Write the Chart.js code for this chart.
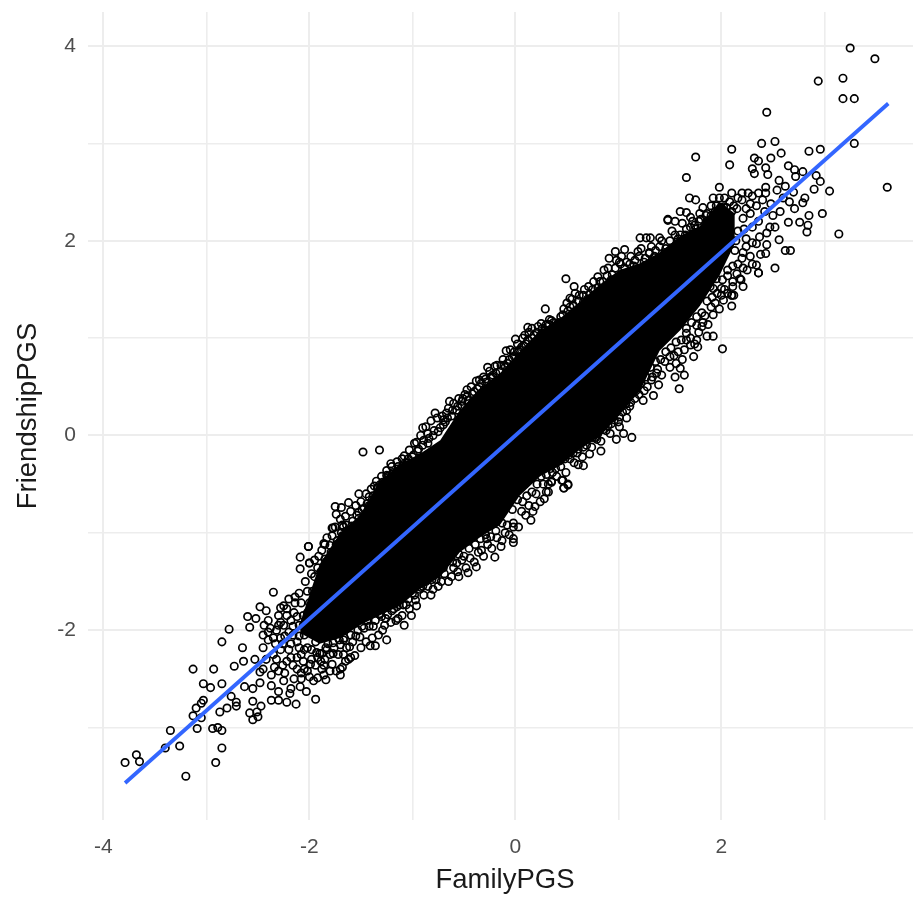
<!DOCTYPE html>
<html>
<head>
<meta charset="utf-8">
<title>FamilyPGS vs FriendshipPGS</title>
<script src="https://cdn.jsdelivr.net/npm/chart.js@4/dist/chart.umd.min.js"></script>
<style>
  html, body { margin: 0; padding: 0; background: #fff; }
  #wrap { width: 913px; height: 898px; overflow: hidden; }
  canvas { display: block; }
</style>
</head>
<body>
<div id="wrap"><canvas id="chart" width="913" height="898"></canvas></div>
<script>
const xTicks = [-4, -3, -2, -1, 0, 1, 2, 3];
const yTicks = [-3, -2, -1, 0, 1, 2, 3, 4];
const xLabels = [-4, -2, 0, 2];
const yLabels = [-2, 0, 2, 4];

// fitted line, both ends
const fitLine = [[-3.79, -3.57], [3.62, 3.41]];

// solid black part of the cloud, upper and lower edge
const coreX = [-2.09, -1.90, -1.70, -1.51, -1.32, -1.12, -0.93, -0.73, -0.54, -0.35, -0.15, 0.04, 0.24, 0.43, 0.63, 0.82, 1.01, 1.21, 1.40, 1.60, 1.79, 1.98, 2.13];
const coreTop = [-1.92, -1.32, -1.00, -0.82, -0.47, -0.29, -0.19, -0.05, 0.26, 0.48, 0.64, 0.86, 1.08, 1.20, 1.38, 1.55, 1.70, 1.77, 1.88, 2.05, 2.15, 2.40, 2.28];
const coreBottom = [-2.03, -2.14, -2.08, -1.95, -1.85, -1.75, -1.58, -1.45, -1.20, -1.05, -0.92, -0.62, -0.42, -0.31, -0.14, -0.01, 0.21, 0.46, 0.87, 1.08, 1.33, 1.64, 1.97];

// single circles around the core
const lowTail = [
  [-3.79,-3.36],[-3.68,-3.28],[-3.65,-3.35],[-3.40,-3.21],[-3.35,-3.03],[-3.26,-3.19],[-3.20,-3.50],[-2.91,-3.36],
  [-2.85,-3.21],[-2.94,-3.01],[-2.89,-3.00],[-2.85,-3.03],[-3.09,-3.01],[-3.13,-2.88],[-3.10,-2.80],[-3.05,-2.90],
  [-3.05,-2.75],[-3.03,-2.72],[-2.87,-2.84],[-2.80,-2.80],[-2.71,-2.78],[-2.71,-2.74],[-2.76,-2.68],[-2.85,-2.55],
  [-2.96,-2.59],[-3.03,-2.55],[-3.13,-2.40],[-2.93,-2.40],[-2.73,-2.37],[-2.85,-2.12],[-2.78,-1.99],[-2.65,-2.18],
  [-2.64,-2.32],[-2.53,-2.30],[-2.63,-2.58],[-2.55,-2.60],[-2.48,-2.54],[-2.48,-2.43],[-2.37,-2.46],[-2.37,-2.57],
  [-2.30,-2.63],[-2.37,-2.72],[-2.30,-2.72],[-2.22,-2.74],[-2.13,-2.76],[-2.19,-2.65],[-2.09,-2.58],[-2.03,-2.63],
  [-1.94,-2.71],[-1.84,-2.51],[-1.92,-2.49],[-1.70,-2.46],[-1.70,-2.40],[-2.55,-2.73],[-2.47,-2.78],[-2.58,-2.85],
  [-2.51,-2.84],[-2.55,-2.92],[-2.50,-2.89],[-2.60,-1.86],[-2.52,-1.88],[-2.58,-1.97],[-2.48,-1.76],[-2.42,-1.80],
  [-2.35,-1.61],[-2.28,-1.77],[-2.01,-1.14],[-2.09,-1.25],[-2.09,-1.37],[-1.85,-1.12],[-1.77,-0.95],[-2.00,-1.31],
  [-2.45,-2.05],[-2.40,-2.10],[-2.38,-1.98],[-2.32,-2.00],[-2.28,-2.08],[-2.25,-1.95],[-2.20,-2.02],[-2.18,-1.90],
  [-2.15,-1.82],[-2.10,-1.95],[-2.08,-1.72],[-2.12,-2.12],[-2.05,-2.05],[-2.02,-1.60],[-1.98,-2.30],[-1.95,-1.45],
  [-1.90,-1.52],[-1.88,-2.40],[-1.85,-2.30],[-1.80,-2.25],[-2.28,-2.20],[-2.35,-2.25],[-2.22,-2.32],[-2.18,-2.28],
  [-2.12,-2.40],[-2.05,-2.40],[-2.00,-2.48],[-1.98,-2.20],[-2.25,-1.75],[-2.20,-1.68],[-2.30,-1.85],[-2.40,-1.90],
  [-2.45,-2.18],[-1.94,-2.12],[-1.78,-2.35],[-1.72,-2.25],[-1.65,-2.32],[-1.60,-2.28],[-2.08,-2.25],[-2.15,-2.50],
  [-2.25,-2.52],[-2.30,-2.42],[-2.42,-2.30],[-2.45,-2.40],
  [-2.14,-1.72],[-2.10,-1.62],[-2.06,-1.85],[-2.04,-1.50],[-2.00,-1.72],[-1.97,-1.60],[-2.16,-2.05],[-2.10,-2.18],
  [-2.20,-2.20],[-2.06,-2.32],[-2.02,-2.18],[-2.32,-2.30],[-2.26,-2.36],[-2.16,-2.36],[-2.08,-2.50],[-2.22,-1.85],
  [-2.40,-2.02],[-2.35,-2.08],[-2.30,-1.95],[-2.24,-2.06],[-2.16,-1.96],[-2.12,-1.86],[-2.06,-1.95],[-2.02,-1.82],
  [-1.96,-1.72],[-1.92,-1.62],[-2.33,-2.14],[-2.26,-2.14],[-2.18,-2.14],[-2.10,-2.06],[-2.00,-2.00],[-1.94,-1.90],
  [-2.44,-1.95],[-2.28,-1.92],[-2.22,-1.78],[-2.14,-1.66],[-2.24,-2.44],[-2.34,-2.38],[-2.12,-2.28],[-2.05,-2.20],
  [-1.90,-2.24],[-1.84,-2.18],[-2.18,-2.60],[-2.08,-2.44],[-1.94,-2.36],[-1.86,-2.36]
];
const upperEdge = [
  [-1.48,-0.17],[-1.32,-0.15],[-1.21,-0.29],[-1.08,-0.21],[-1.52,-0.60],[-1.62,-0.69],[-1.75,-0.73],[-1.69,-0.74],
  [-1.74,-0.81],[-1.42,-0.63],[-1.37,-0.52],[-1.32,-0.51],[-1.78,-0.95],[-1.86,-1.11],[-2.01,-1.14],[-2.00,-1.31],
  [-1.91,-1.24],[-1.52,-0.79],[-0.90,0.08],[-0.96,-0.07],[-0.78,0.23],[-0.67,0.23],[-0.64,0.35],[-0.47,0.47],
  [-0.52,0.35],[-0.35,0.57],[-0.85,0.02],[-0.70,0.11],[-1.25,-0.41],[-1.12,-0.42],[-1.06,-0.34],[-1.67,-0.94],
  [-1.68,-1.03],[-1.62,-1.11],[0.29,1.30],[0.49,1.61],[0.57,1.53],[0.71,1.53],[0.66,1.37],[0.53,1.41],
  [0.53,1.32],[0.80,1.63],[0.91,1.82],[0.97,1.89],[1.06,1.91],[1.19,1.89],[1.21,2.03],[1.27,2.03],
  [1.31,2.03],[1.40,2.03],[1.48,2.21],[1.30,1.87],[1.01,1.78],[0.00,0.99],[-0.09,0.87],[-0.01,0.81],
  [0.06,0.91],[0.12,1.11],[0.16,1.10],[0.09,1.03],[-0.11,0.72],[-0.20,0.71],[-0.27,0.70],[-0.22,0.60],
  [0.25,1.15],[0.33,1.19],[0.41,1.14],
  [-1.98,-1.42],[-1.95,-1.28],[-1.92,-1.36],[-1.88,-1.18],[-1.85,-1.27],[-1.83,-1.05],[-1.80,-1.13],[-1.78,-1.03],
  [-1.75,-0.94],[-1.73,-1.08],[-1.70,-0.86],[-1.68,-0.92],[-1.65,-0.83],[-1.63,-0.98],[-1.60,-0.78],[-1.58,-0.88],
  [-1.55,-0.72],[-1.52,-0.85],[-1.50,-0.68],[-1.47,-0.75],[-1.45,-0.60],[-1.42,-0.72],[-1.40,-0.55],[-1.38,-0.62],
  [-1.35,-0.47],[-1.33,-0.60],[-1.30,-0.42],[-1.27,-0.52],[-1.25,-0.36],[-1.22,-0.46],[-1.20,-0.32],[-1.17,-0.42],
  [-1.15,-0.27],[-1.12,-0.36],[-1.10,-0.24],[-1.05,-0.28],[-1.03,-0.15],[-1.00,-0.22],[-0.98,-0.08],[-0.95,-0.16],
  [-0.92,0.00],[-0.90,-0.10],[-0.87,0.09],[-0.84,-0.03],[-0.82,0.15],[-0.79,0.05],[-0.76,0.18],[-0.73,0.08],
  [-0.71,0.20],[-0.68,0.14],[-0.65,0.28],[-0.62,0.20],[-0.60,0.33],[-0.57,0.26],[-0.55,0.38],[-0.52,0.30],
  [-0.49,0.42],[-0.46,0.36],[-0.43,0.50],[-0.40,0.45],[-0.38,0.56],[-0.35,0.50],[-0.31,0.60],[-0.28,0.55],
  [-0.25,0.66],[-0.22,0.62],[-0.18,0.72],[-0.15,0.66],[-0.12,0.78],[-0.08,0.74],[-0.05,0.88],[-0.03,0.80],
  [0.02,0.94],[0.04,0.88],[0.07,1.00],[0.10,0.94],[0.13,1.06],[0.18,1.03],[0.22,1.12],[0.26,1.10],
  [0.30,1.14],[0.35,1.18],[0.38,1.12],[0.44,1.22],[0.47,1.30],[0.50,1.36],[0.55,1.40],[0.58,1.46],
  [0.62,1.44],[0.67,1.50],[0.72,1.45],[0.76,1.58],[0.82,1.58],[0.86,1.70],[0.90,1.72],[0.94,1.65],
  [0.98,1.80],[1.03,1.84],[1.08,1.78],[1.12,1.84],[1.16,1.80],[1.22,1.92],[1.26,1.82],[1.32,1.94],
  [1.36,1.90],[1.42,2.00],[1.46,1.92],[1.52,2.10],[1.55,2.20],[1.58,2.02],[1.62,2.18],[1.66,2.12],
  [1.70,2.24],[1.74,2.16],[1.78,2.20],[1.82,2.34],[1.86,2.20],[1.90,2.36],[1.94,2.30],[1.98,2.44],
  [2.03,2.44],[2.08,2.40],[2.12,2.36],[2.16,2.44],[2.24,2.33],[2.30,2.46],
  [-1.89,-1.40],[-1.84,-1.30],[-1.79,-1.20],[-1.74,-1.12],[-1.69,-1.00],[-1.64,-0.92],[-1.59,-0.93],[-1.54,-0.82],
  [-1.49,-0.76],[-1.44,-0.70],[-1.39,-0.66],[-1.34,-0.54],[-1.29,-0.48],[-1.24,-0.42],[-1.19,-0.38],[-1.14,-0.32],
  [-1.09,-0.30],[-1.04,-0.24],[-0.99,-0.20],[-0.94,-0.14],[-0.89,-0.05],[-0.85,-0.08],[-0.80,0.00],[-0.75,0.04],
  [-0.70,0.16],[-0.66,0.18],[-0.61,0.26],[-0.56,0.30],[-0.51,0.38],[-0.47,0.40],[-0.42,0.43],[-0.37,0.48],
  [-0.33,0.54],[-0.29,0.58],[-0.24,0.60],[-0.19,0.64],[-0.14,0.72],[-0.10,0.70],[-0.06,0.78],[-0.01,0.86],
  [0.03,0.86],[0.08,0.92],[0.12,0.98],[0.16,1.00],[0.21,1.06],[0.25,1.04],[0.29,1.08],[0.33,1.14],
  [0.37,1.16],[0.42,1.16],[0.46,1.24],[0.51,1.28],[0.56,1.34],[0.61,1.38],[0.66,1.44],[0.70,1.40],
  [0.75,1.50],[0.80,1.52],[0.85,1.58],[0.89,1.64],[0.93,1.60],[0.97,1.72],[1.02,1.76],[1.06,1.72],
  [1.11,1.76],[1.15,1.74],[1.20,1.84],[1.25,1.78],[1.30,1.88],[1.35,1.84],[1.40,1.94],[1.45,1.88],
  [1.50,2.00],[1.55,2.06],[1.60,2.06],[1.65,2.06],[1.70,2.14],[1.75,2.12],[1.80,2.22],[1.85,2.26],
  [1.90,2.26],[1.95,2.36],[2.00,2.34],[2.05,2.34],[2.10,2.30]
];
const lowerEdge = [
  [-0.20,-1.25],[-0.33,-1.18],[-0.38,-1.35],[-0.46,-1.41],[-0.55,-1.45],[-0.62,-1.45],[-0.75,-1.55],[-0.82,-1.64],
  [-0.97,-1.69],[-1.01,-1.85],[-1.08,-1.95],[-1.14,-1.88],[-1.25,-2.10],[-1.29,-2.00],[-1.36,-2.16],[-1.41,-2.16],
  [-1.67,-2.25],[-0.13,-1.08],[-0.02,-1.10],[-0.02,-1.06],[-0.28,-1.06],[0.15,-0.87],[0.19,-0.73],[0.28,-0.65],
  [0.30,-0.58],[0.35,-0.48],[0.45,-0.46],[0.51,-0.50],[0.47,-0.54],[0.61,-0.30],[-0.02,-0.94],[-0.57,-1.31],
  [-0.90,-1.55],[-1.20,-1.72],[-1.32,-1.83],[-1.51,-2.07],[-1.61,-2.17],[-1.77,-2.13],[-1.93,-2.23],[-1.67,-2.10],
  [2.01,0.89],[1.59,0.48],[1.64,0.62],[1.55,0.60],[1.60,0.69],[1.73,0.81],[1.77,0.91],[1.70,0.93],
  [1.64,0.88],[1.92,1.02],[1.86,1.02],[1.76,0.98],[2.10,1.33],[2.02,1.39],[1.92,1.24],[1.84,1.23],
  [2.21,1.53],[2.10,1.44],[2.36,1.67],[2.00,1.51],[1.92,1.51],[2.11,1.58],[1.13,-0.02],[0.98,-0.04],
  [1.05,0.02],[1.01,0.09],[0.93,0.12],[1.08,0.18],[1.01,0.19],[1.11,0.30],[1.24,0.36],[1.34,0.41],
  [1.39,0.52],[1.32,0.57],[0.66,-0.31],[0.83,-0.16],[0.72,-0.19],[0.79,-0.04],[0.46,-0.46],[0.51,-0.51],
  [0.35,-0.47],[0.32,-0.58],[0.47,-0.54],[1.56,0.74],[1.50,0.81],[1.37,0.64],[1.66,1.05],[1.76,1.13],
  [1.81,1.12],[1.56,1.19],
  [-2.02,-2.42],[-1.99,-2.35],[-1.96,-2.52],[-1.92,-2.28],[-1.89,-2.32],[-1.86,-2.46],[-1.83,-2.20],[-1.80,-2.42],
  [-1.76,-2.18],[-1.74,-2.42],[-1.70,-2.15],[-1.68,-2.38],[-1.64,-2.18],[-1.62,-2.30],[-1.58,-2.12],[-1.56,-2.26],
  [-1.53,-2.00],[-1.50,-2.18],[-1.47,-1.98],[-1.45,-2.12],[-1.42,-1.96],[-1.39,-2.08],[-1.36,-1.90],[-1.33,-2.05],
  [-1.30,-1.86],[-1.27,-1.95],[-1.24,-1.84],[-1.21,-1.92],[-1.18,-1.78],[-1.16,-1.90],[-1.13,-1.74],[-1.10,-1.85],
  [-1.06,-1.74],[-1.03,-1.78],[-1.00,-1.62],[-0.96,-1.75],[-0.93,-1.58],[-0.89,-1.64],[-0.85,-1.55],[-0.80,-1.58],
  [-0.77,-1.48],[-0.72,-1.50],[-0.69,-1.42],[-0.65,-1.50],[-0.60,-1.36],[-0.56,-1.40],[-0.52,-1.28],[-0.48,-1.36],
  [-0.44,-1.26],[-0.40,-1.30],[-0.36,-1.20],[-0.31,-1.24],[-0.27,-1.12],[-0.23,-1.16],[-0.18,-1.05],[-0.14,-1.14],
  [-0.10,-1.00],[-0.06,-1.02],[-0.02,-0.90],[0.03,-0.94],[0.06,-0.78],[0.10,-0.82],[0.13,-0.72],[0.17,-0.78],
  [0.20,-0.60],[0.24,-0.68],[0.27,-0.50],[0.32,-0.50],[0.36,-0.38],[0.40,-0.42],[0.44,-0.32],[0.49,-0.38],
  [0.53,-0.24],[0.57,-0.28],[0.60,-0.18],[0.65,-0.22],[0.69,-0.10],[0.74,-0.12],[0.78,-0.02],[0.83,-0.06],
  [0.88,0.05],[0.92,0.02],[0.96,0.16],[1.00,0.14],[1.04,0.24],[1.08,0.26],[1.12,0.34],[1.16,0.38],
  [1.20,0.42],[1.25,0.46],[1.28,0.50],[1.33,0.60],[1.38,0.68],[1.42,0.62],[1.45,0.76],[1.50,0.70],
  [1.54,0.82],[1.58,0.86],[1.62,0.78],[1.66,0.98],[1.70,1.00],[1.74,0.94],[1.78,1.06],[1.82,1.16],
  [1.87,1.14],[1.90,1.32],[1.94,1.36],[1.98,1.30],[2.03,1.50],[2.06,1.46],[2.12,1.44],[2.15,1.66],
  [2.19,1.60],[2.25,1.70],[2.30,1.76],
  [-1.88,-2.24],[-1.82,-2.14],[-1.77,-2.24],[-1.71,-2.10],[-1.66,-2.08],[-1.60,-2.05],[-1.55,-2.06],[-1.49,-1.96],
  [-1.44,-1.90],[-1.38,-1.96],[-1.32,-1.84],[-1.26,-1.88],[-1.20,-1.80],[-1.15,-1.76],[-1.09,-1.74],[-1.04,-1.68],
  [-0.98,-1.64],[-0.92,-1.56],[-0.87,-1.50],[-0.81,-1.48],[-0.76,-1.42],[-0.70,-1.36],[-0.66,-1.28],[-0.61,-1.30],
  [-0.55,-1.22],[-0.50,-1.24],[-0.45,-1.16],[-0.39,-1.12],[-0.34,-1.06],[-0.29,-1.02],[-0.24,-1.04],[-0.19,-0.98],
  [-0.13,-0.90],[-0.08,-0.92],[-0.03,-0.76],[0.02,-0.66],[0.07,-0.68],[0.11,-0.62],[0.16,-0.58],[0.21,-0.50],
  [0.25,-0.42],[0.30,-0.40],[0.34,-0.34],[0.39,-0.34],[0.43,-0.26],[0.48,-0.24],[0.52,-0.20],[0.56,-0.18],
  [0.61,-0.14],[0.66,-0.12],[0.70,-0.04],[0.75,-0.02],[0.80,0.02],[0.85,0.06],[0.90,0.10],[0.94,0.18],
  [0.98,0.24],[1.03,0.30],[1.07,0.32],[1.12,0.44],[1.17,0.46],[1.22,0.54],[1.27,0.60],[1.31,0.70],
  [1.36,0.76],[1.41,0.78],[1.46,0.86],[1.51,0.90],[1.56,0.96],[1.61,0.98],[1.66,1.10],[1.71,1.16],
  [1.76,1.22],[1.81,1.26],[1.86,1.38],[1.91,1.42],[1.96,1.46],[2.01,1.60],[2.06,1.64],[2.11,1.74],
  [2.16,1.76],[2.21,1.88]
];
const highTail = [
  [3.25,3.98],[3.49,3.87],[2.94,3.64],[3.18,3.67],[3.18,3.46],[3.29,3.46],[2.44,3.32],[3.29,3.00],
  [2.52,3.02],[2.39,3.00],[2.96,2.94],[2.85,2.92],[2.10,2.94],[1.75,2.86],[2.08,2.78],[1.66,2.65],
  [2.58,2.90],[2.48,2.85],[2.32,2.85],[2.36,2.82],[2.30,2.74],[2.43,2.75],[2.32,2.69],[2.45,2.68],
  [2.65,2.77],[2.71,2.73],[2.79,2.71],[2.72,2.66],[2.92,2.67],[2.96,2.61],[2.90,2.53],[3.05,2.51],
  [3.61,2.55],[3.14,2.07],[2.98,2.28],[2.85,2.26],[2.84,2.16],[2.83,2.09],[2.76,2.19],[2.65,2.19],
  [2.56,2.01],[2.52,2.14],[2.47,2.14],[2.62,1.90],[2.67,1.90],[2.52,1.72],[2.36,1.67],[2.34,1.75],
  [2.43,1.87],[2.44,1.96],[2.81,2.44],[2.79,2.39],[2.71,2.33],[2.66,2.40],[2.70,2.50],[2.57,2.30],
  [2.43,2.55],[2.43,2.49],[2.36,2.49],[2.54,2.52],[2.26,2.49],[2.20,2.49],[2.10,2.49],[1.98,2.55],
  [1.92,2.44],[2.02,2.35],[2.20,2.42],[2.28,2.38],[2.15,2.33],[2.28,2.28],[2.21,2.23],[1.69,2.44],
  [1.75,2.42],[1.60,2.30],[1.66,2.29],[1.48,2.22],[1.86,2.28],[1.79,2.28],[1.72,2.20],[2.20,1.82],
  [2.13,1.90],[2.18,1.61],[2.10,1.44],[2.00,1.44],[1.95,1.61],[2.06,1.70],[1.89,1.53],[2.34,1.97],
  [2.37,2.04],[2.44,2.08],[2.24,1.94],[2.28,1.84],[2.21,1.72],[2.11,1.53],
  [2.16,2.10],[2.22,2.12],[2.30,2.14],[2.36,2.20],[2.34,2.36],[2.42,2.30],[2.48,2.38],[2.30,1.98],
  [2.24,2.02],[2.38,1.86],[2.14,2.00],[2.50,2.26],[2.40,2.42],[2.60,2.44],[2.56,2.62],[2.62,2.56]
];

const toPoints = pairs => pairs.map(p => ({ x: p[0], y: p[1] }));

// x title sits a little right of the panel centre in the original
const xTitle = {
  id: 'xTitle',
  afterDraw(chart) {
    const { ctx } = chart;
    ctx.save();
    ctx.font = '27.5px "Liberation Sans"';
    ctx.fillStyle = '#1a1a1a';
    ctx.textAlign = 'center';
    ctx.textBaseline = 'middle';
    ctx.fillText('FamilyPGS', 505, 880);
    ctx.restore();
  },
};

const noPadding = (scale) => {
  scale.paddingLeft = 0;
  scale.paddingRight = 0;
  scale.paddingTop = 0;
  scale.paddingBottom = 0;
};

new Chart(document.getElementById('chart'), {
  type: 'scatter',
  plugins: [xTitle],
  data: {
    datasets: [
      {
        type: 'line',
        data: toPoints(fitLine),
        borderColor: '#3366FF',
        borderWidth: 3.8,
        pointRadius: 0,
        order: 0,
      },
      {
        data: toPoints([...lowTail, ...upperEdge, ...lowerEdge, ...highTail]),
        pointRadius: 3.7,
        pointBorderWidth: 1.7,
        pointBorderColor: '#000',
        pointBackgroundColor: 'transparent',
        order: 1,
      },
      {
        type: 'line',
        data: coreX.map((x, i) => ({ x, y: coreTop[i] })),
        borderWidth: 0,
        pointRadius: 0,
        backgroundColor: '#000',
        fill: '+1',
        order: 2,
      },
      {
        type: 'line',
        data: coreX.map((x, i) => ({ x, y: coreBottom[i] })),
        borderWidth: 0,
        pointRadius: 0,
        order: 3,
      },
    ],
  },
  options: {
    responsive: false,
    animation: false,
    events: [],
    layout: { autoPadding: false, padding: { top: 12, right: 0, left: 0, bottom: 0 } },
    plugins: { legend: { display: false }, tooltip: { enabled: false } },
    scales: {
      x: {
        type: 'linear',
        min: -4.15,
        max: 3.86,
        afterFit: (scale) => {
          scale.height = 78;
          noPadding(scale);
        },
        afterBuildTicks: (scale) => { scale.ticks = xTicks.map(value => ({ value })); },
        border: { display: false },
        grid: {
          color: '#EDEDED',
          lineWidth: (ctx) => (xLabels.includes(ctx.tick.value) ? 2 : 1.6),
          drawTicks: false,
        },
        ticks: {
          autoSkip: false,
          maxRotation: 0,
          padding: 15,
          color: '#4D4D4D',
          font: { family: 'Liberation Sans', size: 21 },
          callback: (v) => (xLabels.includes(v) ? String(v) : ''),
        },
      },
      y: {
        type: 'linear',
        min: -3.95,
        max: 4.35,
        afterFit: (scale) => {
          scale.width = 88;
          noPadding(scale);
        },
        afterBuildTicks: (scale) => { scale.ticks = yTicks.map(value => ({ value })); },
        border: { display: false },
        grid: {
          color: '#EDEDED',
          lineWidth: (ctx) => (yLabels.includes(ctx.tick.value) ? 2 : 1.6),
          drawTicks: false,
        },
        ticks: {
          autoSkip: false,
          padding: 12,
          color: '#4D4D4D',
          font: { family: 'Liberation Sans', size: 21 },
          callback: (v) => (yLabels.includes(v) ? String(v) : ''),
        },
        title: {
          display: true,
          text: 'FriendshipPGS',
          color: '#1a1a1a',
          font: { family: 'Liberation Sans', size: 27.5 },
          padding: { top: 12, bottom: 0 },
        },
      },
    },
  },
});
</script>
</body>
</html>
